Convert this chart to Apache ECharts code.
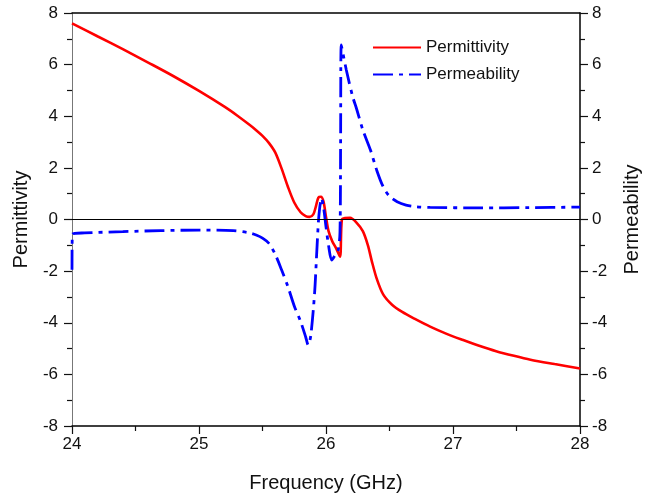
<!DOCTYPE html>
<html>
<head>
<meta charset="utf-8">
<script src="https://cdn.jsdelivr.net/npm/echarts@6/dist/echarts.min.js"></script>
<style>html,body{margin:0;padding:0;background:#fff}#c{width:657px;height:498px}</style>
</head>
<body>
<div id="c"></div>
<script>
// Frequency (GHz) and values
var epsFreq = [24.0,24.2,24.4,24.6,24.8,25.0,25.2,25.3,25.4,25.45,25.5,25.55,25.6,25.65,25.7,25.75,25.8,25.84,25.87,25.9,25.92,25.94,25.96,25.98,26.0,26.02,26.05,26.08,26.11,26.125,26.15,26.19,26.24,26.29,26.33,26.36,26.4,26.45,26.52,26.6,26.7,26.82,26.95,27.08,27.2,27.34,27.48,27.61,27.8,28.0];
var epsValues = [7.6,7.1,6.6,6.08,5.55,4.98,4.37,4.03,3.66,3.46,3.24,2.97,2.6,1.98,1.27,0.66,0.28,0.13,0.1,0.2,0.5,0.85,0.88,0.7,0.1,-0.45,-0.85,-1.12,-1.44,0.0,0.06,0.07,-0.12,-0.45,-1.0,-1.6,-2.3,-2.9,-3.3,-3.58,-3.85,-4.15,-4.43,-4.67,-4.88,-5.1,-5.28,-5.43,-5.6,-5.77];
var muFreq = [24.0,24.003,24.1,24.4,24.7,25.0,25.27,25.4,25.45,25.5,25.55,25.6,25.65,25.7,25.75,25.8,25.84,25.86,25.88,25.91,25.93,25.945,25.965,25.98,26.0,26.02,26.045,26.07,26.095,26.11,26.115,26.12,26.16,26.21,26.24,26.29,26.35,26.4,26.45,26.5,26.56,26.63,26.7,26.82,27.2,27.6,28.0];
var muValues = [-1.95,-0.57,-0.52,-0.47,-0.43,-0.41,-0.43,-0.52,-0.6,-0.72,-0.92,-1.35,-1.95,-2.6,-3.35,-3.95,-4.55,-4.86,-4.5,-2.86,-1.0,0.2,0.82,0.5,-0.28,-1.0,-1.57,-1.4,-1.2,-0.5,3.0,6.76,5.79,4.76,4.3,3.47,2.69,1.9,1.27,0.9,0.69,0.56,0.5,0.47,0.45,0.46,0.48];
var yTicks = [-8,-6,-4,-2,0,2,4,6,8];
var xTicks = [24,25,26,27,28];

function pairs(xs, ys){ return xs.map(function(x,i){ return [x, ys[i]]; }); }

var font = 'Liberation Sans, Arial, sans-serif';
var chart = echarts.init(document.getElementById('c'), null, {renderer:'canvas'});
function yAxisCfg(pos, name, lineColor){
  return {
    type:'value', position:pos, min:yTicks[0], max:yTicks[yTicks.length-1], interval:2,
    name:name, nameLocation:'middle', nameGap:pos==='left'?39:42, nameRotate:90,
    nameTextStyle:{fontFamily:font, fontSize:20, color:'#111'},
    axisLine:{show:true, onZero:false, lineStyle:{color:lineColor, width:pos==='left'?1:1.5}},
    axisTick:{show:true, inside:false, length:8, lineStyle:{color:'#111', width:1.2}},
    minorTick:{show:true, splitNumber:2, length:5, lineStyle:{color:'#111', width:1.2}},
    axisLabel:{fontFamily:font, fontSize:17, color:'#111', margin:pos==='left'?14:12},
    splitLine:{show:false}
  };
}
chart.setOption({
  animation:false,
  backgroundColor:'#fff',
  grid:{left:72, right:77, top:13, bottom:72, containLabel:false},
  legend:{
    orient:'vertical', left:372, top:39, padding:0, itemWidth:48, itemHeight:14, itemGap:10,
    itemStyle:{opacity:0},
    textStyle:{fontFamily:font, fontSize:17, color:'#111'},
    data:['Permittivity','Permeability']
  },
  xAxis:[{
    type:'value', min:xTicks[0], max:xTicks[xTicks.length-1], interval:1,
    name:'Frequency (GHz)', nameLocation:'middle', nameGap:47,
    nameTextStyle:{fontFamily:font, fontSize:20, color:'#111'},
    axisLine:{show:true, onZero:false, lineStyle:{color:'#000', width:1.5}},
    axisTick:{show:true, length:8, lineStyle:{color:'#111', width:1.2}},
    minorTick:{show:true, splitNumber:2, length:5, lineStyle:{color:'#111', width:1.2}},
    axisLabel:{fontFamily:font, fontSize:17, color:'#111', margin:10},
    splitLine:{show:false}
  },{
    type:'value', position:'top', min:xTicks[0], max:xTicks[xTicks.length-1],
    axisLine:{show:true, onZero:false, lineStyle:{color:'#000', width:1.5}},
    axisTick:{show:false}, axisLabel:{show:false}, splitLine:{show:false}
  }],
  yAxis:[yAxisCfg('left','Permittivity','#777'), yAxisCfg('right','Permeability','#000')],
  series:[{
    name:'Permittivity', type:'line', xAxisIndex:0, yAxisIndex:0,
    data:pairs(epsFreq, epsValues), symbol:'none', smooth:0.3,
    lineStyle:{color:'#ff0000', width:2.6}, itemStyle:{color:'#ff0000'},
    markLine:{silent:true, symbol:['none','none'], label:{show:false},
      lineStyle:{color:'#000', width:1, type:'solid'}, data:[{yAxis:0}]}
  },{
    name:'Permeability', type:'line', xAxisIndex:0, yAxisIndex:1,
    data:pairs(muFreq, muValues), symbol:'none', smooth:0.3,
    lineStyle:{color:'#0000ff', width:2.8, type:[20,6,4,6]}, itemStyle:{color:'#0000ff'}
  }]
});
</script>
</body>
</html>
